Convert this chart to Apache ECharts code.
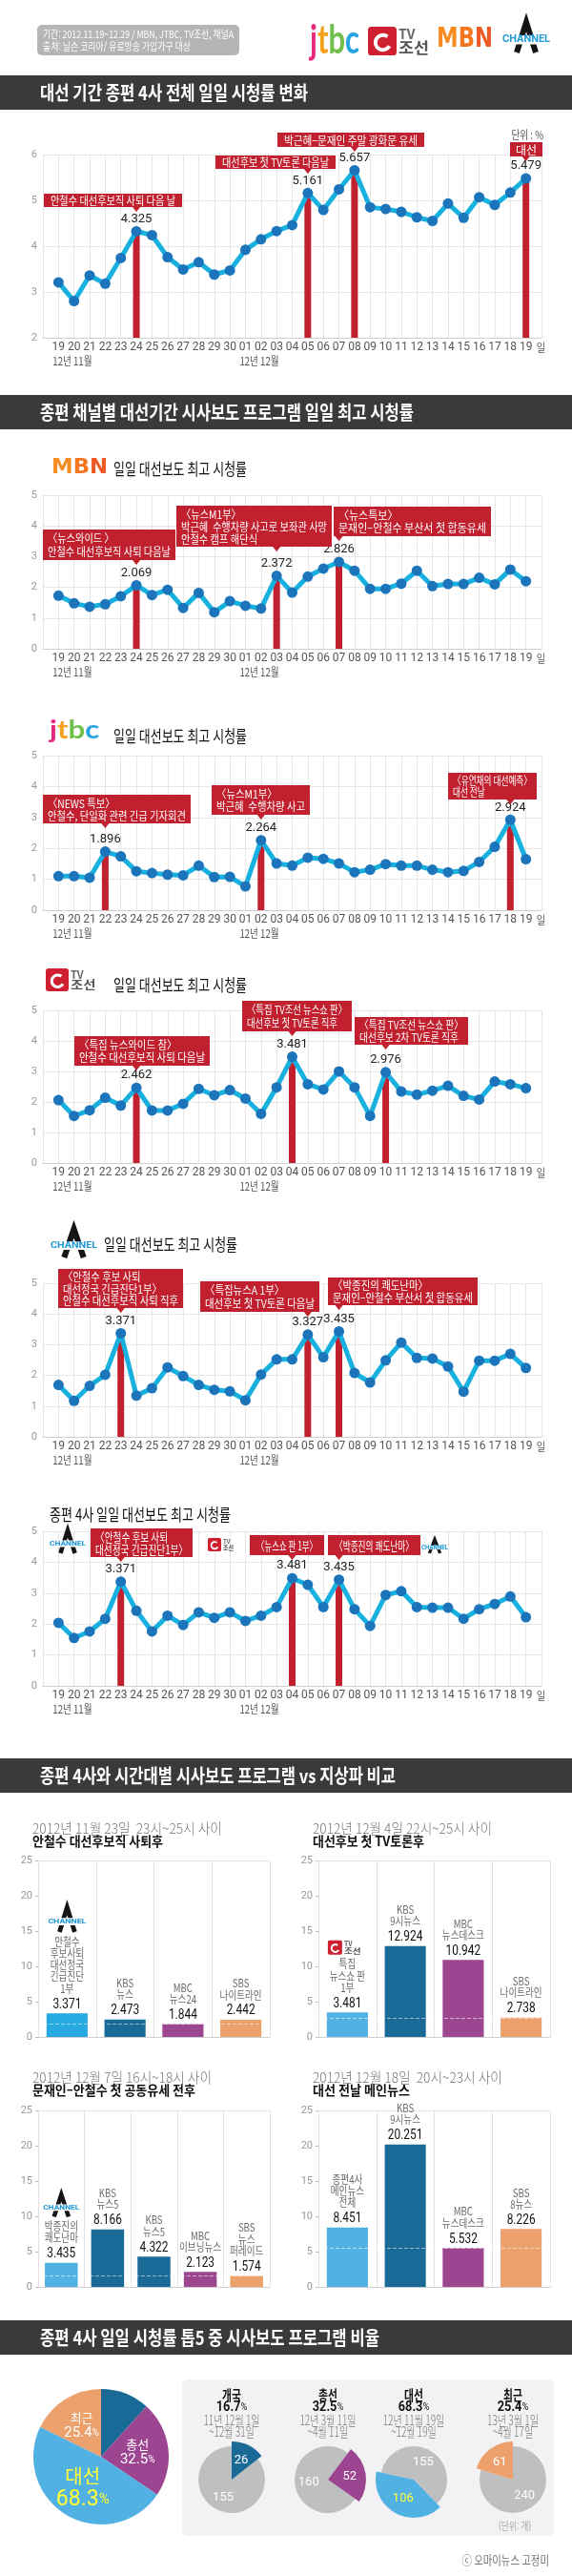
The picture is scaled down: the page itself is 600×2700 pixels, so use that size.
<!DOCTYPE html>
<html lang="ko"><head><meta charset="utf-8"><title>종편 4사 대선 시청률</title>
<script src="https://cdn.jsdelivr.net/npm/echarts@6/dist/echarts.min.js"></script>
<style>html,body{margin:0;padding:0;background:#fff}#chart{width:600px;height:2700px}</style>
</head><body><div id="chart"></div>
<script>
// ---------------- DATA ----------------
const days = ['19','20','21','22','23','24','25','26','27','28','29','30','01','02','03','04','05','06','07','08','09','10','11','12','13','14','15','16','17','18','19'];
const totalRating = [3.21,2.80,3.36,3.18,3.74,4.325,4.24,3.76,3.49,3.65,3.38,3.47,3.92,4.15,4.33,4.46,5.161,4.79,5.24,5.657,4.85,4.81,4.75,4.63,4.55,4.93,4.62,5.07,4.90,5.17,5.479];
const totalPeaks = [5,16,19,30];
const mbnRating = [1.73,1.48,1.37,1.45,1.71,2.069,1.75,1.92,1.33,1.82,1.19,1.55,1.40,1.31,2.372,1.83,2.35,2.61,2.826,2.54,1.95,1.95,2.12,2.54,2.04,2.11,2.11,2.31,2.10,2.58,2.20];
const mbnPeaks = [5,14,18];
const jtbcRating = [1.10,1.10,1.05,1.896,1.74,1.26,1.20,1.15,1.13,1.44,1.07,1.08,0.77,2.264,1.51,1.44,1.70,1.66,1.51,1.23,1.31,1.49,1.44,1.44,1.31,1.23,1.27,1.56,2.05,2.924,1.65];
const jtbcPeaks = [3,13,29];
const tvcRating = [2.06,1.54,1.73,2.14,1.88,2.462,1.72,1.72,1.94,2.43,2.22,2.39,2.11,1.61,2.48,3.481,2.58,2.41,3.00,2.48,1.54,2.976,2.34,2.24,2.37,2.53,2.20,2.08,2.67,2.58,2.45];
const tvcPeaks = [5,15,21];
const chaRating = [1.69,1.17,1.66,2.02,3.371,1.34,1.58,2.26,1.98,1.69,1.53,1.48,1.19,2.03,2.52,2.52,3.327,2.59,3.435,2.08,1.77,2.49,3.07,2.57,2.55,2.29,1.47,2.48,2.48,2.70,2.24];
const chaPeaks = [4,16,18];
const topRating = [2.04,1.55,1.76,2.17,3.371,2.43,1.76,2.27,1.97,2.38,2.20,2.38,2.10,2.27,2.55,3.481,3.27,2.55,3.435,2.48,1.94,2.94,3.06,2.55,2.53,2.53,2.17,2.48,2.65,2.89,2.22];
const topPeaks = [4,15,18];

const barA_names = ['안철수\n후보사퇴\n대선정국\n긴급진단\n1부','KBS\n뉴스','MBC\n뉴스24','SBS\n나이트라인'];
const barA_values = [3.371,2.473,1.844,2.442];
const barB_names = ['특집\n뉴스쇼 판\n1부','KBS\n9시뉴스','MBC\n뉴스데스크','SBS\n나이트라인'];
const barB_values = [3.481,12.924,10.942,2.738];
const barC_names = ['박종진의\n쾌도난마','KBS\n뉴스5','KBS\n뉴스5','MBC\n이브닝뉴스','SBS\n뉴스\n퍼레이드'];
const barC_values = [3.435,8.166,4.322,2.123,1.574];
const barD_names = ['종편4사\n메인뉴스\n전체','KBS\n9시뉴스','MBC\n뉴스데스크','SBS\n8뉴스'];
const barD_values = [8.451,20.251,5.532,8.226];

const periodNames = ['개국','총선','대선','최근'];
const periodShares = [16.7,32.5,68.3,25.4];
const periodNews = [26,52,106,61];
const periodOther = [155,160,155,240];
const periodRanges = [['11년 12월 1일','~12월 31일'],['12년 3월 11일','~4월 11일'],['12년 11월 19일','~12월 19일'],['13년 3월 1일','~4월 17일']];

// ---------------- STYLE / LAYOUT ----------------
const KR = "'Noto Sans CJK KR','Noto Sans',sans-serif";
const NUM = "'Liberation Sans Narrow',Roboto,'Noto Sans',sans-serif";
const RED = '#c1202f', CYAN = '#18b1df', DOT = '#1c74bb';
const C_LIGHT = '#52b1e3', C_KBS = '#1a6a98', C_MBC = '#9c4591', C_SBS = '#eca06c';

const lineCharts = [
  {data: totalRating, peaks: totalPeaks, min: 2, max: 6, top: 162, bottom: 354, nf: 12, notes: [
    {i: 5, t: ['안철수 대선후보직 사퇴 다음 날'], b: [46,203,191,217]},
    {i: 16, t: ['대선후보 첫 TV토론 다음날'], b: [226,163,352,177]},
    {i: 19, t: ['박근혜–문재인 주말 광화문 유세'], b: [291,139,445,154]},
    {i: 30, t: ['대선'], b: [535,149,569,164]}]},
  {data: mbnRating, peaks: mbnPeaks, min: 0, max: 5, top: 519, bottom: 680, nf: 12, notes: [
    {i: 5, t: ['〈뉴스와이드 〉','안철수 대선후보직 사퇴 다음날'], b: [45,555,184,587]},
    {i: 14, t: ['〈뉴스M1부〉','박근혜  수행차량 사고로 보좌관 사망','안철수 캠프 해단식'], b: [185,530,348,573]},
    {i: 18, t: ['〈뉴스특보〉','문재인–안철수 부산서 첫 합동유세'], b: [350,531,515,562]}]},
  {data: jtbcRating, peaks: jtbcPeaks, min: 0, max: 5, top: 792, bottom: 954, nf: 12, notes: [
    {i: 3, t: ['〈NEWS 특보〉','안철수, 단일화 관련 긴급 기자회견'], b: [45,833,200,863]},
    {i: 13, t: ['〈뉴스M1부〉','박근혜  수행차량 사고'], b: [222,823,325,854]},
    {i: 29, t: ['〈유연채의 대선예측〉','대선 전날'], b: [470,810,563,838]}]},
  {data: tvcRating, peaks: tvcPeaks, min: 0, max: 5, top: 1059, bottom: 1219, nf: 12, notes: [
    {i: 5, t: ['〈특집 뉴스와이드 참〉','안철수 대선후보직 사퇴 다음날'], b: [78,1086,220,1117]},
    {i: 15, t: ['〈특집 TV조선 뉴스쇼 판〉','대선후보 첫 TV토론 직후'], b: [254,1049,369,1081]},
    {i: 21, t: ['〈특집 TV조선 뉴스쇼 판〉','대선후보 2차 TV토론 직후'], b: [372,1066,491,1095]}]},
  {data: chaRating, peaks: chaPeaks, min: 0, max: 5, top: 1345, bottom: 1506, nf: 12, notes: [
    {i: 4, t: ['〈안철수 후보 사퇴','대선정국 긴급진단1부〉','안철수 대선후보직 사퇴 직후'], b: [61,1330,192,1371]},
    {i: 16, t: ['〈특집뉴스A 1부〉','대선후보 첫 TV토론 다음날'], b: [210,1343,335,1375]},
    {i: 18, t: ['〈박종진의 쾌도난마〉','문재인–안철수 부산서 첫 합동유세'], b: [344,1339,501,1368]}]},
  {data: topRating, peaks: topPeaks, min: 0, max: 5, top: 1605, bottom: 1767, nf: 13, notes: [
    {i: 4, t: ['〈안철수 후보 사퇴','대선정국 긴급진단1부〉'], b: [95,1602,202,1632]},
    {i: 15, t: ['〈뉴스쇼 판 1부〉'], b: [262,1609,340,1630]},
    {i: 18, t: ['〈박종진의 쾌도난마〉'], b: [344,1609,441,1630]}]}
];

const barCharts = [
  {names: barA_names, values: barA_values, colors: ['#27a9e1',C_KBS,C_MBC,C_SBS], logo: 'cha', logoW: 40, logoH: 27,
   left: 40, right: 317, top: 1950.7, bottom: 2135, sub: ['2012년 11월 23일  23시~25시 사이','안철수 대선후보직 사퇴후'], subW: [199,137], subY: 1916},
  {names: barB_names, values: barB_values, colors: [C_LIGHT,C_KBS,C_MBC,C_SBS], logo: 'tvc', logoW: 41, logoH: 15,
   left: 334, right: 23, top: 1950.7, bottom: 2135, sub: ['2012년 12월 4일 22시~25시 사이','대선후보 첫 TV토론후'], subW: [188,117], subY: 1916},
  {names: barC_names, values: barC_values, colors: [C_LIGHT,C_KBS,C_KBS,C_MBC,C_SBS], logo: 'cha', logoW: 38, logoH: 24,
   left: 40, right: 317, top: 2212.7, bottom: 2397, sub: ['2012년 12월 7일 16시~18시 사이','문재인–안철수 첫 공동유세 전후'], subW: [188,171], subY: 2177},
  {names: barD_names, values: barD_values, colors: [C_LIGHT,C_KBS,C_MBC,C_SBS], logo: null,
   left: 334, right: 23, top: 2212.7, bottom: 2397, sub: ['2012년 12월 18일  20시~23시 사이','대선 전날 메인뉴스'], subW: [199,102], subY: 2177}
];

const periodColors = [C_KBS, C_MBC, C_LIGHT, C_SBS];
const smallPies = [{cx: 243, start: 90, newsFirst: true},{cx: 344, start: 53, newsFirst: true},{cx: 434, start: -46, newsFirst: true},{cx: 538, start: 90, newsFirst: false}];

// ---------------- HELPERS ----------------
const chart = echarts.init(document.getElementById('chart'), null, {width: 600, height: 2700, renderer: 'canvas'});
const mctx = document.createElement('canvas').getContext('2d');
function measure(text, font) { mctx.font = font; return Math.max(...String(text).split('\n').map(s => mctx.measureText(s).width)); }
function T(x, y, text, o = {}) {
  const font = o.font || `12px ${KR}`;
  let sx = o.sx || 1;
  if (o.w) sx = Math.min(o.max || 1.2, o.w / measure(o.measureText || text, font));
  const align = o.align || 'left', va = o.va || 'middle';
  const style = {text, font, fill: o.fill || '#333', align, verticalAlign: va, textAlign: align, textVerticalAlign: va};
  if (o.lh) style.lineHeight = o.lh;
  if (o.rich) style.rich = o.rich;
  return {type: 'text', x, y, scaleX: sx, z: o.z || 40, silent: true, style};
}
function logoMBN(x, y, w, h) {
  const fs = Math.round(h * 1.3);
  const font = `bold ${fs}px 'DejaVu Sans',sans-serif`;
  const rs = c => ({fill: c, color: c, fontSize: fs, fontWeight: 'bold', fontFamily: "'DejaVu Sans',sans-serif"});
  return [T(x, y + h / 2, '{a|M}{b|B}{c|N}', {font, w, measureText: 'MBN', fill: '#f47a20',
    rich: {a: rs('#f68b1f'), b: rs('#f4771f'), c: rs('#ef5a24')}})];
}
function logoJTBC(x, y, w, h) {
  const fs = Math.round(h * 1.2);
  const font = `bold ${fs}px Lato,sans-serif`;
  const rs = c => ({fill: c, color: c, fontSize: fs, fontWeight: 'bold', fontFamily: 'Lato,sans-serif'});
  return [T(x, y + h / 2, '{a|j}{b|t}{c|b}{d|c}', {font, w, measureText: 'jtbc', fill: '#e6287e',
    rich: {a: rs('#e8287f'), b: rs('#f5a01a'), c: rs('#6fbf4a'), d: rs('#27a4e0')}})];
}
function logoTVC(x, y, w, h) {
  const s = h;
  return [
    {type: 'rect', shape: {x, y, width: s, height: s, r: s * 0.12}, style: {fill: '#cf2030'}, z: 40, silent: true},
    {type: 'arc', shape: {cx: x + s * 0.52, cy: y + s * 0.55, r: s * 0.26, startAngle: 0.5, endAngle: Math.PI * 2 - 0.9, clockwise: true}, style: {stroke: '#fff', lineWidth: s * 0.13, fill: null}, z: 41, silent: true},
    T(x + s + 2, y + s * 0.27, 'TV', {font: `bold ${Math.round(s * 0.45)}px ${KR}`, fill: '#666'}),
    T(x + s + 2, y + s * 0.72, '조선', {font: `bold ${Math.round(s * 0.52)}px ${KR}`, fill: '#555', w: w - s - 2})
  ];
}
function logoChA(x, y, w, h) {
  const cx = x + w / 2;
  return [
    {type: 'polyline', shape: {points: [[cx - w * 0.2, y + h], [cx, y + h * 0.04], [cx + w * 0.2, y + h]]}, style: {stroke: '#151515', lineWidth: w * 0.12, fill: null, lineJoin: 'miter'}, z: 40, silent: true},
    {type: 'rect', shape: {x: x, y: y + h * 0.46, width: w, height: h * 0.28}, style: {fill: '#fff'}, z: 41, silent: true},
    T(cx, y + h * 0.6, 'CHANNEL', {font: `bold ${Math.max(7, Math.round(h * 0.3))}px Roboto,sans-serif`, fill: '#1f9ad8', align: 'center', w: w, z: 42})
  ];
}
const LOGO = {mbn: logoMBN, jtbc: logoJTBC, tvc: logoTVC, cha: logoChA};

// ---------------- OPTION ----------------
const option = {animation: false, backgroundColor: '#fff', grid: [], xAxis: [], yAxis: [], series: []};

lineCharts.forEach((c, g) => {
  option.grid.push({left: 45, right: 32, top: c.top, height: c.bottom - c.top});
  option.xAxis.push({gridIndex: g, type: 'value', min: -1, max: 31, interval: 1,
    axisLine: {show: true, lineStyle: {color: '#cfcfcf'}}, axisTick: {show: false},
    splitLine: {show: true, lineStyle: {color: '#e6e6e6'}},
    axisLabel: {color: '#555', fontSize: 12, fontFamily: NUM, margin: 4, showMinLabel: true, showMaxLabel: true,
      formatter: v => (v >= 0 && v <= 30) ? days[v] : ''}});
  option.yAxis.push({gridIndex: g, type: 'value', min: c.min, max: c.max, interval: 1,
    axisLine: {show: false}, axisTick: {show: false},
    splitLine: {show: true, lineStyle: {color: '#e6e6e6'}},
    axisLabel: {color: '#999', fontSize: 11, fontFamily: NUM, margin: 6}});
  option.series.push({type: 'bar', xAxisIndex: g, yAxisIndex: g, barWidth: 7, silent: true, z: 2,
    itemStyle: {color: RED}, data: c.peaks.map(i => [i, c.data[i]])});
  option.series.push({type: 'line', xAxisIndex: g, yAxisIndex: g, silent: true, z: 3,
    symbol: 'circle', symbolSize: 11, lineStyle: {color: CYAN, width: 5}, itemStyle: {color: DOT},
    label: {show: false, position: 'top', distance: 1, color: '#222', fontSize: 13, fontFamily: NUM, formatter: p => p.value[1].toFixed(3)},
    data: c.data.map((v, i) => ({value: [i, v], label: {show: c.peaks.includes(i)}}))});
});

const barSeriesStart = option.series.length;
barCharts.forEach((b, k) => {
  const g = lineCharts.length + k;
  option.grid.push({left: b.left, right: b.right, top: b.top, height: b.bottom - b.top});
  const xi = option.xAxis.length;
  option.xAxis.push({gridIndex: g, type: 'category', data: b.names,
    axisLine: {show: true, lineStyle: {color: '#cfcfcf'}}, axisTick: {show: false, interval: 0}, axisLabel: {show: false, interval: 0},
    splitLine: {show: true, interval: 0, lineStyle: {color: '#e3e3e3'}}});
  option.xAxis.push({gridIndex: g, type: 'category', position: 'top', data: b.names,
    axisLine: {show: true, lineStyle: {color: '#e3e3e3'}}, axisTick: {show: false}, axisLabel: {show: false}, splitLine: {show: false}});
  option.yAxis.push({gridIndex: g, type: 'value', min: 0, max: 25, interval: 5,
    axisLine: {show: true, lineStyle: {color: '#e3e3e3'}}, axisTick: {show: true, length: 3, lineStyle: {color: '#bbb'}},
    splitLine: {show: false}, axisLabel: {color: '#999', fontSize: 11, fontFamily: NUM, margin: 6}});
  option.series.push({type: 'bar', xAxisIndex: xi, yAxisIndex: g, barWidth: '71%', silent: true,
    data: b.values.map((v, i) => ({value: v, itemStyle: {color: b.colors[i]}})),
    markLine: {silent: true, symbol: 'none', label: {show: false}, lineStyle: {color: 'rgba(255,255,255,0.55)', type: 'dashed', width: 1}, data: [{type: 'min'}]}});
});

// big pie
option.series.push({type: 'pie', center: [106, 2575], radius: 71, startAngle: 90, clockwise: true, silent: true, avoidLabelOverlap: false,
  labelLine: {show: false},
  label: {show: true, position: 'inside',
    formatter: p => p.name === '대선' ? `{N|${p.name}}\n{V|${p.value}}{P|%}` : `{n|${p.name}}\n{v|${p.value}}{p|%}`,
    rich: {n: {color: '#fff', fontSize: 13, fontFamily: KR, lineHeight: 16}, v: {color: '#fff', fontSize: 15, fontFamily: NUM, lineHeight: 17}, p: {color: '#fff', fontSize: 10, fontFamily: NUM},
      N: {color: '#ffff33', fontSize: 20, fontFamily: KR, lineHeight: 24}, V: {color: '#ffff33', fontSize: 23, fontFamily: NUM, lineHeight: 25}, P: {color: '#ffff33', fontSize: 15, fontFamily: NUM}}},
  data: periodNames.map((n, i) => ({name: n, value: periodShares[i], itemStyle: {color: periodColors[i]}}))});

// small pies
smallPies.forEach((sp, i) => {
  const clear = 'rgba(0,0,0,0)';
  const newsG = {value: periodNews[i], itemStyle: {color: clear}, label: {show: false}};
  const otherG = {value: periodOther[i], itemStyle: {color: '#bebfc1'}};
  const newsC = {value: periodNews[i], itemStyle: {color: periodColors[i]}, label: {color: i === 2 ? '#ffff3c' : '#fff'}};
  const otherC = {value: periodOther[i], itemStyle: {color: clear}, label: {show: false}};
  const base = {type: 'pie', center: [sp.cx, 2599], startAngle: sp.start, clockwise: true, silent: true, avoidLabelOverlap: false,
    labelLine: {show: false}, label: {show: true, position: 'inside', color: '#fff', fontSize: 13, fontFamily: NUM, formatter: '{c}'}};
  option.series.push(Object.assign({}, base, {radius: 35, data: sp.newsFirst ? [newsG, otherG] : [otherG, newsG]}));
  option.series.push(Object.assign({}, base, {radius: 40, z: 3, data: sp.newsFirst ? [newsC, otherC] : [otherC, newsC]}));
});

chart.setOption(option);

// ---------------- GRAPHICS ----------------
const G = [];
// header
G.push({type: 'rect', shape: {x: 39, y: 26, width: 212, height: 32, r: 5}, style: {fill: '#b5b5b5'}, z: 10, silent: true});
G.push(T(45, 36, '기간: 2012.11.19~12.29 / MBN, JTBC, TV조선, 채널A', {font: `11px ${KR}`, fill: '#fff', w: 200}));
G.push(T(45, 48.5, '출처: 닐슨 코리아/ 유료방송 가입가구 대상', {font: `11px ${KR}`, fill: '#fff', w: 155}));
G.push(...logoJTBC(325, 25, 52, 35), ...logoTVC(386, 28, 64, 30), ...logoMBN(458, 30, 59, 22), ...logoChA(527, 22, 50, 33));

// section bars
[[79, '대선 기간 종편 4사 전체 일일 시청률 변화', 281],
 [414, '종편 채널별 대선기간 시사보도 프로그램 일일 최고 시청률', 392],
 [1843, '종편 4사와 시간대별 시사보도 프로그램 vs 지상파 비교', 373],
 [2432, '종편 4사 일일 시청률 톱5 중 시사보도 프로그램 비율', 356]].forEach(([top, title, w]) => {
  G.push({type: 'rect', shape: {x: 0, y: top, width: 600, height: 36}, style: {fill: '#3a3a3c'}, z: 10, silent: true});
  G.push(T(42, top + 18.5, title, {font: `bold 20px ${KR}`, fill: '#fff', w}));
});

G.push(T(570, 141, '단위 : %', {font: `12px ${KR}`, fill: '#555', align: 'right', sx: 0.8}));

// chart titles + logos
G.push(...logoMBN(54, 482, 59, 17)); G.push(T(119, 492, '일일 대선보도 최고 시청률', {font: `17px ${KR}`, fill: '#111', w: 140}));
G.push(...logoJTBC(52, 755, 54, 22)); G.push(T(119, 772, '일일 대선보도 최고 시청률', {font: `17px ${KR}`, fill: '#111', w: 140}));
G.push(...logoTVC(48, 1015, 64, 24)); G.push(T(119, 1033, '일일 대선보도 최고 시청률', {font: `17px ${KR}`, fill: '#111', w: 140}));
G.push(...logoChA(52, 1287, 51, 31)); G.push(T(109, 1305, '일일 대선보도 최고 시청률', {font: `17px ${KR}`, fill: '#111', w: 140}));
G.push(T(52, 1588, '종편 4사 일일 대선보도 최고 시청률', {font: `17px ${KR}`, fill: '#111', w: 190}));
G.push(...logoChA(52, 1603, 38, 25), ...logoTVC(218, 1612, 27, 14), ...logoChA(442, 1613, 28, 15));

// line chart annotations, month labels
lineCharts.forEach((c, g) => {
  const si = g * 2 + 1;
  const px = i => chart.convertToPixel({seriesIndex: si}, [i, c.min]);
  const [x0, yb] = px(0);
  G.push(T(x0 - 6, yb + 24, '12년 11월', {font: `12px ${KR}`, fill: '#555', sx: 0.8}));
  G.push(T(px(12)[0] - 6, yb + 24, '12년 12월', {font: `12px ${KR}`, fill: '#555', sx: 0.8}));
  G.push(T(px(30)[0] + 11, yb + 10, '일', {font: `12px ${KR}`, fill: '#555', sx: 0.85}));
  c.notes.forEach(n => {
    const [x1, y1, x2, y2] = n.b;
    const p = px(n.i)[0];
    G.push({type: 'rect', shape: {x: x1, y: y1, width: x2 - x1, height: y2 - y1}, style: {fill: RED}, z: 20, silent: true});
    G.push({type: 'polygon', shape: {points: [[p - 4.5, y2 - 0.5], [p + 4.5, y2 - 0.5], [p, y2 + 5]]}, style: {fill: RED}, z: 20, silent: true});
    const single = n.t.length === 1;
    const pad = single ? (x2 - x1 > 50 ? 7 : 4) : 5;
    const font = `${c.nf}px ${KR}`;
    const lh = Math.min(c.nf + 1.5, (y2 - y1 - 4) / n.t.length);
    G.push(T(single ? (x1 + x2) / 2 : x1 + pad, (y1 + y2) / 2 + 0.5, n.t.join('\n'),
      {font, fill: '#fff', align: single ? 'center' : 'left', w: x2 - x1 - 2 * pad, max: 1, lh, z: 21}));
  });
});

// bar charts: headings and labels
barCharts.forEach((b, k) => {
  G.push(T(b.left - 6, b.subY, b.sub[0], {font: `300 15px ${KR}`, fill: '#777', w: b.subW[0]}));
  G.push(T(b.left - 6, b.subY + 13.5, b.sub[1], {font: `bold 14px ${KR}`, fill: '#111', w: b.subW[1]}));
  const si = barSeriesStart + k;
  b.values.forEach((v, i) => {
    const [x, y] = chart.convertToPixel({seriesIndex: si}, [i, v]);
    G.push(T(x, y - 9, v.toFixed(3), {font: `14px ${NUM}`, fill: '#111', align: 'center', sx: 0.85}));
    const lines = b.names[i].split('\n');
    lines.forEach((ln, j) => G.push(T(x, y - 26 - (lines.length - 1 - j) * 12.3, ln, {font: `12px ${KR}`, fill: '#6a6a6a', align: 'center', sx: 0.8})));
    if (i === 0 && b.logo) {
      const firstY = y - 26 - (lines.length - 1) * 12.3;
      G.push(...LOGO[b.logo](x - b.logoW / 2, firstY - 10 - b.logoH, b.logoW, b.logoH));
    }
  });
});

// pie section
G.push({type: 'rect', shape: {x: 191, y: 2494, width: 390, height: 164, r: 6}, style: {fill: '#f2f2f4'}, z: 0, silent: true});
smallPies.forEach((sp, i) => {
  G.push(T(sp.cx, 2510, periodNames[i], {font: `bold 15px ${KR}`, fill: '#111', align: 'center', sx: 0.72}));
  G.push(T(sp.cx, 2523, `{a|${periodShares[i]}}{b|%}`, {font: `bold 15px ${NUM}`, fill: '#111', align: 'center', sx: 0.85,
    rich: {a: {fontSize: 15, fontWeight: 'bold', fontFamily: NUM, fill: '#111'}, b: {fontSize: 11, fontFamily: NUM, fill: '#111'}}}));
  G.push(T(sp.cx, 2537, periodRanges[i][0], {font: `300 14px ${KR}`, fill: '#777', align: 'center', sx: 0.72}));
  G.push(T(sp.cx, 2549, periodRanges[i][1], {font: `300 14px ${KR}`, fill: '#777', align: 'center', sx: 0.72}));
});
G.push(T(540, 2648, '(단위: 개)', {font: `11px ${KR}`, fill: '#aaa', align: 'center', sx: 0.8}));
G.push(T(576, 2683, 'ⓒ 오마이뉴스 고정미', {font: `13px ${KR}`, fill: '#777', align: 'right', sx: 0.8}));

chart.setOption({graphic: {elements: G}});
</script></body></html>
